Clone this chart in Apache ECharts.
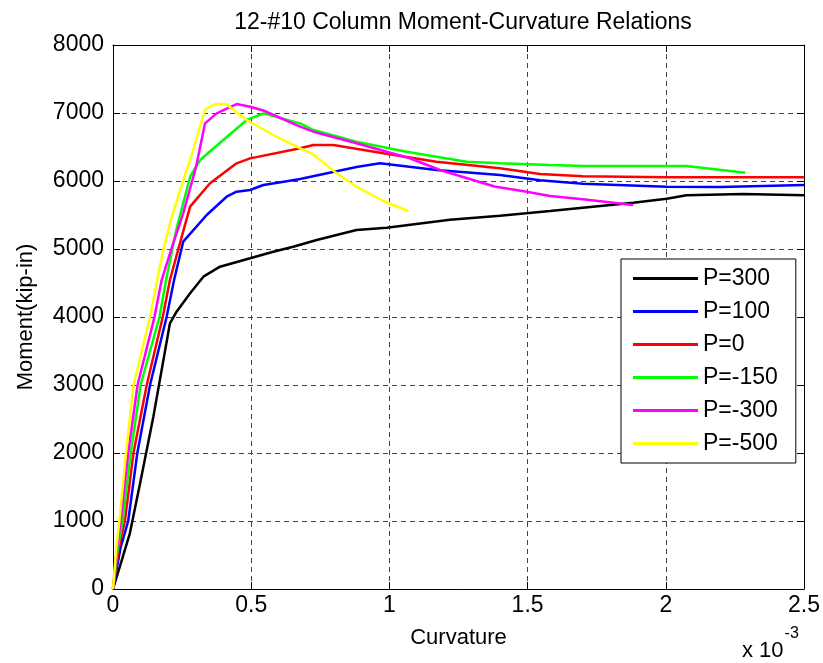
<!DOCTYPE html>
<html>
<head>
<meta charset="utf-8">
<script src="https://cdn.jsdelivr.net/npm/echarts@6/dist/echarts.min.js"></script>
<style>
html,body{margin:0;padding:0;background:#fff;}
#chart{width:823px;height:663px;}
</style>
</head>
<body>
<div id="chart"></div>
<script>
// Curvature values in units of 1e-3, moment in kip-in
const seriesNames = ['P=300', 'P=100', 'P=0', 'P=-150', 'P=-300', 'P=-500'];
const seriesColors = ['#000000', '#0000ff', '#ff0000', '#00ff00', '#ff00ff', '#ffff00'];

const curveP300 = [[0,0],[0.03,400],[0.061,819],[0.098,1554],[0.146,2534],[0.206,3907],[0.23,4078],[0.279,4348],[0.327,4593],[0.387,4740],[0.496,4863],[0.58,4960],[0.652,5034],[0.737,5132],[0.809,5206],[0.881,5279],[0.99,5313],[1.219,5430],[1.40,5490],[1.581,5560],[1.882,5680],[2.003,5740],[2.075,5790],[2.28,5810],[2.5,5790]];
const curveP100 = [[0,0],[0.027,600],[0.055,1000],[0.088,2000],[0.134,3000],[0.194,4000],[0.221,4544],[0.254,5108],[0.339,5500],[0.411,5769],[0.447,5843],[0.496,5868],[0.544,5941],[0.64,6005],[0.677,6029],[0.881,6205],[0.966,6260],[1.17,6162],[1.40,6088],[1.545,6010],[1.70,5960],[2.003,5916],[2.2,5910],[2.5,5941]];
const curveP0 = [[0,0],[0.021,600],[0.043,1000],[0.074,2000],[0.122,3000],[0.18,4000],[0.206,4544],[0.25,5200],[0.279,5623],[0.351,5966],[0.447,6260],[0.496,6333],[0.677,6481],[0.725,6529],[0.797,6529],[0.978,6407],[1.17,6284],[1.40,6186],[1.545,6103],[1.70,6070],[2.0,6054],[2.5,6054]];
const curveM150 = [[0,0],[0.017,600],[0.035,1000],[0.064,2000],[0.1,3000],[0.168,4000],[0.192,4544],[0.23,5300],[0.279,6063],[0.315,6309],[0.399,6603],[0.484,6897],[0.544,6995],[0.677,6848],[0.725,6750],[0.881,6578],[1.062,6431],[1.28,6284],[1.40,6260],[1.581,6235],[1.70,6220],[2.075,6220],[2.287,6122]];
const curveM300 = [[0,0],[0.014,600],[0.028,1000],[0.055,2000],[0.089,3000],[0.15,4000],[0.176,4544],[0.215,5050],[0.254,5525],[0.3,6200],[0.333,6848],[0.375,6995],[0.447,7132],[0.496,7093],[0.544,7037],[0.677,6799],[0.725,6725],[0.881,6554],[1.074,6334],[1.183,6162],[1.38,5920],[1.497,5843],[1.581,5779],[1.70,5730],[1.882,5647]];
const curveM500 = [[0,0],[0.012,600],[0.023,1000],[0.047,2000],[0.074,3000],[0.104,3500],[0.134,4000],[0.160,4544],[0.182,4985],[0.206,5377],[0.245,5900],[0.279,6309],[0.333,7054],[0.369,7132],[0.409,7132],[0.484,6897],[0.58,6676],[0.677,6481],[0.719,6407],[0.809,6113],[0.881,5916],[0.978,5706],[1.068,5559]];

const curves = [curveP300, curveP100, curveP0, curveM150, curveM300, curveM500];
const xTicks = ['0', '0.5', '1', '1.5', '2', '2.5'];
const yTicks = ['0', '1000', '2000', '3000', '4000', '5000', '6000', '7000', '8000'];

const FONT = '"Liberation Sans", Arial, Helvetica, sans-serif';
const chart = echarts.init(document.getElementById('chart'), null, {renderer: 'canvas'});

const gridLine = {show: true, lineStyle: {color: '#444', type: [5, 4], width: 1}};
const axisLineStyle = {show: true, onZero: false, lineStyle: {color: '#000', width: 1}};
const tickStyle = {show: true, inside: true, length: 7, lineStyle: {color: '#000', width: 1}};

const option = {
  animation: false,
  backgroundColor: '#fff',
  title: {
    text: '12-#10 Column Moment-Curvature Relations',
    left: 458, top: 6, textAlign: 'center',
    textStyle: {fontFamily: FONT, fontSize: 23, fontWeight: 'normal', color: '#000'}
  },
  grid: {left: 113, right: 19, top: 45, bottom: 74, containLabel: false},
  legend: {
    orient: 'vertical', left: 621, top: 259,
    data: seriesNames,
    icon: 'rect', itemWidth: 65, itemHeight: 3, itemGap: 10,
    padding: [8, 18, 8, 12],
    backgroundColor: '#fff', borderColor: '#000', borderWidth: 1, borderRadius: 0,
    textStyle: {fontFamily: FONT, fontSize: 23, color: '#000'}
  },
  xAxis: [{
    type: 'value', min: 0, max: 2.5, interval: 0.5, position: 'bottom',
    name: 'Curvature', nameLocation: 'middle', nameGap: 38,
    nameTextStyle: {fontFamily: FONT, fontSize: 22, color: '#000'},
    axisLine: axisLineStyle, axisTick: tickStyle, splitLine: gridLine,
    axisLabel: {fontFamily: FONT, fontSize: 23, color: '#000', margin: 5,
      formatter: function (v) { return xTicks[Math.round(v / 0.5)]; }}
  }, {
    type: 'value', min: 0, max: 2.5, interval: 0.5, position: 'top',
    axisLine: axisLineStyle, axisTick: tickStyle, splitLine: {show: false}, axisLabel: {show: false}
  }],
  yAxis: [{
    type: 'value', min: 0, max: 8000, interval: 1000, position: 'left',
    name: 'Moment(kip-in)', nameLocation: 'middle', nameGap: 76, nameRotate: 90,
    nameTextStyle: {fontFamily: FONT, fontSize: 22, color: '#000'},
    axisLine: axisLineStyle, axisTick: tickStyle, splitLine: gridLine,
    axisLabel: {fontFamily: FONT, fontSize: 23, color: '#000', margin: 9,
      formatter: function (v) { return yTicks[Math.round(v / 1000)]; }}
  }, {
    type: 'value', min: 0, max: 8000, interval: 1000, position: 'right',
    axisLine: axisLineStyle, axisTick: tickStyle, splitLine: {show: false}, axisLabel: {show: false}
  }],
  graphic: [{
    type: 'text', left: 742, top: 626,
    style: {
      text: '{a|x 10}{b|-3}',
      rich: {
        a: {fontFamily: FONT, fontSize: 22, color: '#000', padding: [14, 0, 0, 0]},
        b: {fontFamily: FONT, fontSize: 16, color: '#000', verticalAlign: 'top', padding: [0, 0, 14, 1]}
      }
    }
  }],
  series: curves.map(function (d, i) {
    return {
      name: seriesNames[i], type: 'line', data: d,
      xAxisIndex: 0, yAxisIndex: 0,
      symbol: 'none', smooth: false,
      lineStyle: {color: seriesColors[i], width: 2.5},
      itemStyle: {color: seriesColors[i]},
      z: 2 + i
    };
  })
};
chart.setOption(option);
</script>
</body>
</html>
